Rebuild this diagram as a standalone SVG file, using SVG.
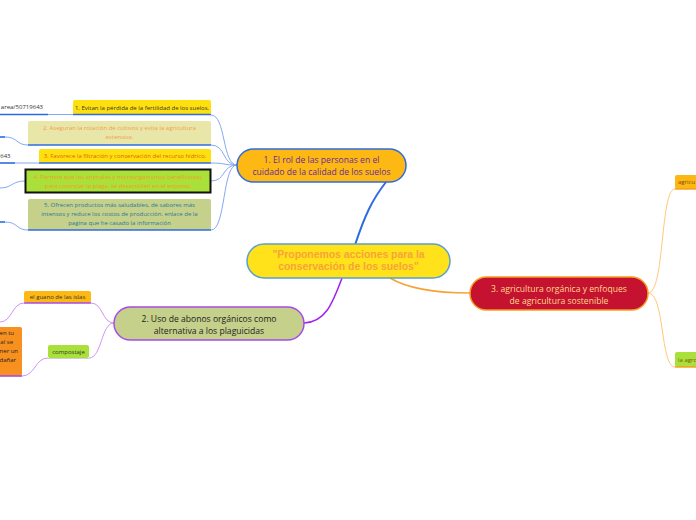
<svg xmlns="http://www.w3.org/2000/svg" width="696" height="520" viewBox="0 0 696 520">
<style>
.t{font-family:"Open Sans","Noto Sans","DejaVu Sans",sans-serif}
.s{font-size:6px}
.m{font-size:8.6px}
.c{text-anchor:middle}
.cb{fill:none;stroke:#86A8F2;stroke-width:1}
.cp{fill:none;stroke:#CF95F2;stroke-width:1}
.co{fill:none;stroke:#FFC878;stroke-width:1}
.ub{stroke:#2F6BE0;stroke-width:1.6}
.up{stroke:#A64BE6;stroke-width:1.6}
.uo{stroke:#F79A1E;stroke-width:1.4}
</style>
<rect width="696" height="520" fill="#ffffff"/>
<g id="connectors">
<path d="M355,245 C365,215 372,200 386,182" fill="none" stroke="#2F6BE0" stroke-width="2"/>
<path d="M342,278 C332,305 325,322 304,323" fill="none" stroke="#A020F0" stroke-width="1.5"/>
<path d="M390,278 C410,290 440,293 470,293" fill="none" stroke="#F7A234" stroke-width="1.5"/>
<path class="cb" d="M211,115 C226,115 222,165 237,165"/>
<path class="cb" d="M211,145 C226,145 222,165 237,165"/>
<path class="cb" d="M211,163 C226,163 222,165 237,165"/>
<path class="cb" d="M211,181 C226,181 222,165 237,165"/>
<path class="cb" d="M211,230 C226,230 222,165 237,165"/>
<path class="cb" d="M48,114.5 L73,114.5"/>
<path class="cb" d="M5,137 C18,137 16,145 28,145"/>
<path class="cb" d="M15,163 L39,163"/>
<path class="cb" d="M0,188 C12,188 12,181 25,181"/>
<path class="cb" d="M5,222 C18,222 16,230 28,230"/>
<path class="cp" d="M91,303 C103,303 102,323 114,323"/>
<path class="cp" d="M89,358 C102,358 101,323 114,323"/>
<path class="cp" d="M0,322 C12,322 12,303 24,303"/>
<path class="cp" d="M48,358 C35,358 35,376 22,376"/>
<path class="co" d="M648,293 C665,293 660,189 675,189"/>
<path class="co" d="M648,293 C665,293 660,367 675,367"/>
</g>
<g id="central">
<rect x="247" y="244" width="203" height="34" rx="17" fill="#FFE21A" stroke="#5AA0D0" stroke-width="1.5"/>
<text x="348.5" y="258" class="c" font-family="Liberation Sans,Arial,sans-serif" font-weight="bold" font-size="10.4" fill="#F7A23A">"Proponemos acciones para la</text>
<text x="348.5" y="269.5" class="c" font-family="Liberation Sans,Arial,sans-serif" font-weight="bold" font-size="10.4" fill="#F7A23A">conservación de los suelos"</text>
</g>
<g id="node1">
<rect x="237" y="149" width="169" height="33" rx="16.5" fill="#FDB813" stroke="#2F6BE0" stroke-width="1.5"/>
<text x="321.5" y="163" class="t m c" fill="#6A2A9A">1. El rol de las personas en el</text>
<text x="321.5" y="174.5" class="t m c" fill="#6A2A9A">cuidado de la calidad de los suelos</text>
</g>
<g id="node2">
<rect x="114" y="307" width="190" height="33" rx="16.5" fill="#C5D08A" stroke="#A64BE6" stroke-width="1.5"/>
<text x="209" y="322" class="t m c" fill="#222">2. Uso de abonos orgánicos como</text>
<text x="209" y="333.5" class="t m c" fill="#222">alternativa a los plaguicidas</text>
</g>
<g id="node3">
<rect x="470" y="277" width="178" height="33" rx="16.5" fill="#C41230" stroke="#F79A1E" stroke-width="1.5"/>
<text x="559" y="292" class="t m c" fill="#FFD98A">3. agricultura orgánica y enfoques</text>
<text x="559" y="303.5" class="t m c" fill="#FFD98A">de agricultura sostenible</text>
</g>
<g id="n1c1">
<rect x="73" y="100" width="138" height="14.5" rx="2" fill="#FFE00F"/>
<line x1="73" y1="114.5" x2="211" y2="114.5" class="ub"/>
<text x="142" y="109.5" class="t s c" fill="#333">1. Evitan la pérdida de la fertilidad de los suelos.</text>
</g>
<g id="n1c1a">
<line x1="0" y1="114.5" x2="48" y2="114.5" class="ub"/>
<text x="43" y="109" class="t s" text-anchor="end" fill="#333">area/50719643</text>
</g>
<g id="n1c2">
<rect x="28" y="121" width="183" height="24" rx="2" fill="#E8E6A8"/>
<line x1="28" y1="145" x2="211" y2="145" class="ub"/>
<text x="119.5" y="130" class="t s c" fill="#F5A04A">2. Aseguran la rotación de cultivos y evita la agricultura</text>
<text x="119.5" y="139" class="t s c" fill="#F5A04A">extensiva.</text>
</g>
<g id="n1c2a">
<line x1="0" y1="137" x2="5" y2="137" class="ub"/>
</g>
<g id="n1c3">
<rect x="39" y="149" width="172" height="14" rx="2" fill="#FFE00F"/>
<line x1="39" y1="163" x2="211" y2="163" class="ub"/>
<text x="125" y="158.2" class="t s c" fill="#E0601A">3. Favorece la filtración y conservación del recurso hídrico.</text>
</g>
<g id="n1c3a">
<line x1="0" y1="163" x2="15" y2="163" class="ub"/>
<text x="10.5" y="157.5" class="t s" text-anchor="end" fill="#333">643</text>
</g>
<g id="n1c4">
<rect x="25.5" y="169.5" width="185" height="23" fill="#A9E03A" stroke="#111" stroke-width="2"/>
<text x="118" y="179" class="t s c" fill="#F59A23">4. Permite que los animales y microorganismos beneficiosos</text>
<text x="118" y="187.5" class="t s c" fill="#F59A23">para controlar la plaga, se desarrollen en el entorno.</text>
</g>
<g id="n1c5">
<rect x="28" y="199" width="183" height="31" rx="2" fill="#C5D08A"/>
<line x1="28" y1="230" x2="211" y2="230" class="ub"/>
<text x="119.5" y="207" class="t s c" fill="#2A7A9A">5. Ofrecen productos más saludables, de sabores más</text>
<text x="119.5" y="216" class="t s c" fill="#2A7A9A">intensos y reduce los costos de producción. enlace de la</text>
<text x="119.5" y="225" class="t s c" fill="#2A7A9A">pagina que he casado la información</text>
</g>
<g id="n1c5a">
<line x1="0" y1="222" x2="5" y2="222" class="ub"/>
</g>
<g id="n2c1">
<rect x="24" y="291" width="67" height="12" rx="2" fill="#FDB813"/>
<line x1="24" y1="303" x2="91" y2="303" class="up"/>
<text x="57.5" y="299.3" class="t s c" fill="#333">el guano de las islas</text>
</g>
<g id="n2c2">
<rect x="48" y="345" width="41" height="13" rx="2" fill="#A9E03A"/>
<line x1="48" y1="358.5" x2="89" y2="358.5" stroke="#cfcfcf" stroke-width="1"/>
<text x="68.5" y="353.5" class="t s c" fill="#333">compostaje</text>
</g>
<g id="n2c2a">
<rect x="-6" y="327" width="28" height="49" rx="2" fill="#F7901E"/>
<line x1="0" y1="376" x2="22" y2="376" class="up"/>
<text x="14" y="335" class="t s" text-anchor="end" fill="#222">en tu</text>
<text x="13" y="344" class="t s" text-anchor="end" fill="#222">al se</text>
<text x="18" y="353" class="t s" text-anchor="end" fill="#222">ner un</text>
<text x="16" y="362" class="t s" text-anchor="end" fill="#222">dañar</text>
</g>
<g id="n3c1">
<rect x="675" y="175" width="30" height="14" rx="2" fill="#FDB813"/>
<line x1="675" y1="189" x2="696" y2="189" class="uo"/>
<text x="678" y="184" class="t s" fill="#7A4A10">agricu</text>
</g>
<g id="n3c2">
<rect x="675" y="352" width="30" height="15" rx="2" fill="#A9E03A"/>
<line x1="675" y1="367" x2="696" y2="367" class="uo"/>
<text x="678" y="361.5" class="t s" fill="#7A5A10">la agro</text>
</g>
</svg>
